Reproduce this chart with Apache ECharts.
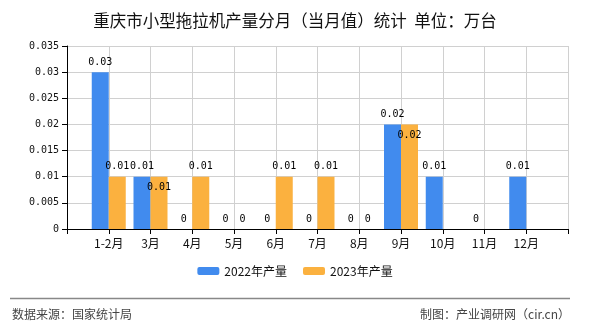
<!DOCTYPE html>
<html>
<head>
<meta charset="utf-8">
<script src="https://cdn.jsdelivr.net/npm/echarts@6/dist/echarts.min.js"></script>
<style>html,body{margin:0;padding:0;background:#fff;}#c{width:590px;height:330px;}</style>
</head>
<body>
<div id="c"></div>
<script>
var categories = ['', '1-2月', '3月', '4月', '5月', '6月', '7月', '8月', '9月', '10月', '11月', '12月', ''];
var values2022 = [null, 0.03, 0.01, 0, 0, 0, 0, 0, 0.02, 0.01, 0, 0.01, null];
var values2023 = [null, 0.01, 0.01, 0.01, 0, 0.01, 0.01, 0, 0.02, null, null, null, null];
var seriesNames = ['2022年产量', '2023年产量'];
var yTicks = { min: 0, max: 0.035, interval: 0.005 };

var labelFont = 'DejaVu Sans Mono';
var cjk = '"Noto Sans CJK SC", sans-serif';

var data2023 = values2023.map(function (v, i) {
  var o = { value: v };
  if (v !== null && values2022[i] === v && v > 0) {
    o.label = { offset: [0, 21] };
  }
  return o;
});

var chart = echarts.init(document.getElementById('c'));
chart.setOption({
  animation: false,
  title: {
    text: '重庆市小型拖拉机产量分月（当月值）统计  单位：万台',
    left: 'center', top: 7,
    textStyle: { fontSize: 16.5, fontWeight: 'normal', color: '#111', fontFamily: cjk }
  },
  grid: { left: 67, right: 22, top: 46, bottom: 101 },
  legend: {
    data: seriesNames,
    bottom: 48, left: 'center',
    itemWidth: 22, itemHeight: 8, itemGap: 16,
    textStyle: { fontSize: 12, color: '#111', fontFamily: cjk }
  },
  xAxis: {
    type: 'category', data: categories, boundaryGap: false,
    axisLine: { lineStyle: { color: '#000' } },
    axisTick: { show: true, length: 5, lineStyle: { color: '#000' } },
    axisLabel: { fontSize: 12, color: '#111', margin: 8, fontFamily: cjk, interval: 0 },
    splitLine: { show: true, lineStyle: { color: '#d0d0d0' } }
  },
  yAxis: {
    type: 'value', min: yTicks.min, max: yTicks.max, interval: yTicks.interval,
    axisLine: { show: true, lineStyle: { color: '#000' } },
    axisTick: { show: true, length: 5, lineStyle: { color: '#000' } },
    axisLabel: { fontSize: 10, color: '#111', margin: 8, fontFamily: labelFont },
    splitLine: { show: true, lineStyle: { color: '#d0d0d0' } }
  },
  series: [
    {
      name: seriesNames[0], type: 'bar', data: values2022,
      barWidth: 17, barGap: '0%',
      itemStyle: { color: '#418BEE' },
      label: { show: true, position: 'top', distance: 5, fontSize: 10, color: '#000', fontFamily: labelFont }
    },
    {
      name: seriesNames[1], type: 'bar', data: data2023,
      barWidth: 17, barGap: '0%',
      itemStyle: { color: '#FBB13F' },
      label: { show: true, position: 'top', distance: 5, fontSize: 10, color: '#000', fontFamily: labelFont }
    }
  ],
  graphic: [
    { type: 'line', shape: { x1: 10, y1: 298.5, x2: 570, y2: 298.5 }, style: { stroke: '#888', lineWidth: 1.5 } },
    { type: 'text', left: 12, top: 308, style: { text: '数据来源：国家统计局', fontSize: 12, fill: '#444', fontFamily: cjk } },
    { type: 'text', right: 20, top: 308, style: { text: '制图：产业调研网（cir.cn）', fontSize: 12, fill: '#444', fontFamily: cjk } }
  ]
});
</script>
</body>
</html>
